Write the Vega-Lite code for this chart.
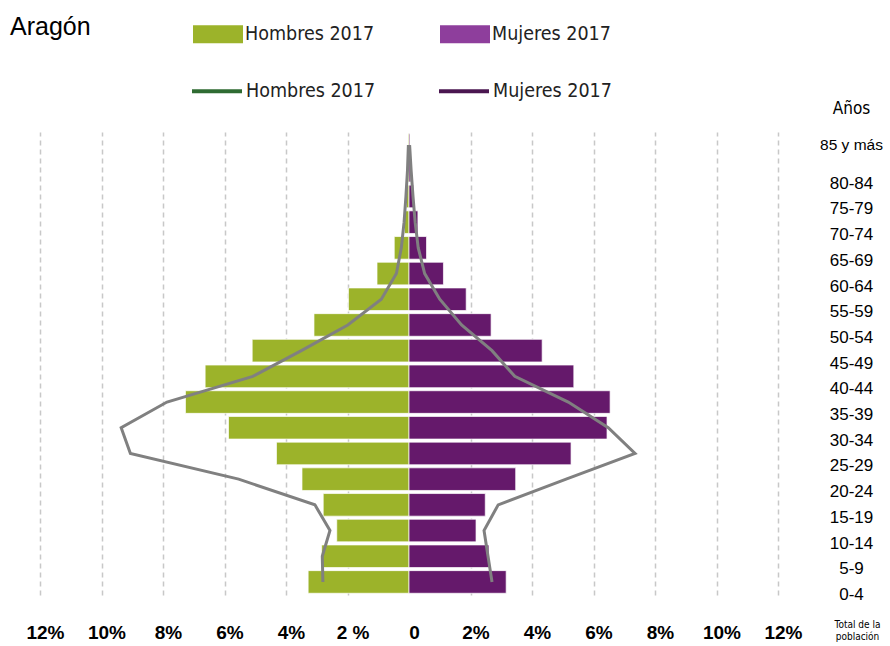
{
  "$schema": "https://vega.github.io/schema/vega-lite/v6.json",
  "width": 738,
  "height": 463,
  "autosize": {"type": "none"},
  "padding": {"left": 40, "top": 132, "right": 112, "bottom": 51},
  "background": "white",
  "title": {"text": "Aragón", "anchor": "start", "frame": "group", "dx": -30, "dy": 35, "fontSize": 25, "font": "Liberation Sans", "fontWeight": "normal", "color": "#000000"},
  "config": {"view": {"stroke": null}},
  "datasets": {
    "barras": [
      {"edad": "85 y más", "sexo": "Hombres 2017", "v": -0.03}, {"edad": "85 y más", "sexo": "Mujeres 2017", "v": 0.03},
      {"edad": "80-84", "sexo": "Hombres 2017", "v": -0.05}, {"edad": "80-84", "sexo": "Mujeres 2017", "v": 0.06},
      {"edad": "75-79", "sexo": "Hombres 2017", "v": -0.09}, {"edad": "75-79", "sexo": "Mujeres 2017", "v": 0.15},
      {"edad": "70-74", "sexo": "Hombres 2017", "v": -0.15}, {"edad": "70-74", "sexo": "Mujeres 2017", "v": 0.29},
      {"edad": "65-69", "sexo": "Hombres 2017", "v": -0.48}, {"edad": "65-69", "sexo": "Mujeres 2017", "v": 0.57},
      {"edad": "60-64", "sexo": "Hombres 2017", "v": -1.04}, {"edad": "60-64", "sexo": "Mujeres 2017", "v": 1.12},
      {"edad": "55-59", "sexo": "Hombres 2017", "v": -1.97}, {"edad": "55-59", "sexo": "Mujeres 2017", "v": 1.86},
      {"edad": "50-54", "sexo": "Hombres 2017", "v": -3.09}, {"edad": "50-54", "sexo": "Mujeres 2017", "v": 2.67},
      {"edad": "45-49", "sexo": "Hombres 2017", "v": -5.10}, {"edad": "45-49", "sexo": "Mujeres 2017", "v": 4.33},
      {"edad": "40-44", "sexo": "Hombres 2017", "v": -6.63}, {"edad": "40-44", "sexo": "Mujeres 2017", "v": 5.36},
      {"edad": "35-39", "sexo": "Hombres 2017", "v": -7.27}, {"edad": "35-39", "sexo": "Mujeres 2017", "v": 6.54},
      {"edad": "30-34", "sexo": "Hombres 2017", "v": -5.87}, {"edad": "30-34", "sexo": "Mujeres 2017", "v": 6.44},
      {"edad": "25-29", "sexo": "Hombres 2017", "v": -4.31}, {"edad": "25-29", "sexo": "Mujeres 2017", "v": 5.27},
      {"edad": "20-24", "sexo": "Hombres 2017", "v": -3.48}, {"edad": "20-24", "sexo": "Mujeres 2017", "v": 3.47},
      {"edad": "15-19", "sexo": "Hombres 2017", "v": -2.79}, {"edad": "15-19", "sexo": "Mujeres 2017", "v": 2.48},
      {"edad": "10-14", "sexo": "Hombres 2017", "v": -2.35}, {"edad": "10-14", "sexo": "Mujeres 2017", "v": 2.18},
      {"edad": "5-9", "sexo": "Hombres 2017", "v": -2.84}, {"edad": "5-9", "sexo": "Mujeres 2017", "v": 2.60},
      {"edad": "0-4", "sexo": "Hombres 2017", "v": -3.28}, {"edad": "0-4", "sexo": "Mujeres 2017", "v": 3.16}
    ],
    "lineas": [
      {"edad": "85 y más", "serie": "Hombres", "v": -0.02},
      {"edad": "80-84", "serie": "Hombres", "v": -0.05},
      {"edad": "75-79", "serie": "Hombres", "v": -0.10},
      {"edad": "70-74", "serie": "Hombres", "v": -0.16},
      {"edad": "65-69", "serie": "Hombres", "v": -0.25},
      {"edad": "60-64", "serie": "Hombres", "v": -0.41},
      {"edad": "55-59", "serie": "Hombres", "v": -0.90},
      {"edad": "50-54", "serie": "Hombres", "v": -1.99},
      {"edad": "45-49", "serie": "Hombres", "v": -3.50},
      {"edad": "40-44", "serie": "Hombres", "v": -5.08},
      {"edad": "35-39", "serie": "Hombres", "v": -7.87},
      {"edad": "30-34", "serie": "Hombres", "v": -9.36},
      {"edad": "25-29", "serie": "Hombres", "v": -9.06},
      {"edad": "20-24", "serie": "Hombres", "v": -5.54},
      {"edad": "15-19", "serie": "Hombres", "v": -3.06},
      {"edad": "10-14", "serie": "Hombres", "v": -2.57},
      {"edad": "5-9", "serie": "Hombres", "v": -2.82},
      {"edad": "0-4", "serie": "Hombres", "v": -2.80},
      {"edad": "85 y más", "serie": "Mujeres", "v": 0.02},
      {"edad": "80-84", "serie": "Mujeres", "v": 0.07},
      {"edad": "75-79", "serie": "Mujeres", "v": 0.13},
      {"edad": "70-74", "serie": "Mujeres", "v": 0.20},
      {"edad": "65-69", "serie": "Mujeres", "v": 0.30},
      {"edad": "60-64", "serie": "Mujeres", "v": 0.51},
      {"edad": "55-59", "serie": "Mujeres", "v": 1.00},
      {"edad": "50-54", "serie": "Mujeres", "v": 1.71},
      {"edad": "45-49", "serie": "Mujeres", "v": 2.70},
      {"edad": "40-44", "serie": "Mujeres", "v": 3.44},
      {"edad": "35-39", "serie": "Mujeres", "v": 5.18},
      {"edad": "30-34", "serie": "Mujeres", "v": 6.48},
      {"edad": "25-29", "serie": "Mujeres", "v": 7.35},
      {"edad": "20-24", "serie": "Mujeres", "v": 5.11},
      {"edad": "15-19", "serie": "Mujeres", "v": 2.90},
      {"edad": "10-14", "serie": "Mujeres", "v": 2.44},
      {"edad": "5-9", "serie": "Mujeres", "v": 2.57},
      {"edad": "0-4", "serie": "Mujeres", "v": 2.70}
    ]
  },
  "layer": [
    {
      "data": {"name": "barras"},
      "mark": {"type": "bar", "stroke": "#ffffff", "strokeWidth": 0.7},
      "encoding": {
        "y": {
          "field": "edad", "type": "nominal",
          "sort": ["85 y más", "80-84", "75-79", "70-74", "65-69", "60-64", "55-59", "50-54", "45-49", "40-44", "35-39", "30-34", "25-29", "20-24", "15-19", "10-14", "5-9", "0-4"],
          "scale": {"paddingInner": 0.12, "paddingOuter": 0.068},
          "axis": {
            "orient": "right", "ticks": false, "domain": false, "grid": false,
            "labelAlign": "center", "labelPadding": 73, "labelFont": "Liberation Sans", "labelColor": "#000000",
            "labelFontSize": {"condition": {"test": "datum.value === '85 y más'", "value": 15.5}, "value": 17},
            "labelOffset": {"condition": {"test": "datum.value === '85 y más'", "value": 0}, "value": 13},
            "title": "Años", "titleAngle": 0, "titleX": 73, "titleY": -24, "titleAlign": "center", "titleBaseline": "middle",
            "titleFont": "Liberation Sans Narrow, DejaVu Sans Condensed, sans-serif", "titleFontSize": 17, "titleFontWeight": "normal", "titleColor": "#000000"
          }
        },
        "x": {
          "field": "v", "type": "quantitative",
          "scale": {"domain": [-12, 12], "nice": false},
          "axis": {
            "values": [-12, -10, -8, -6, -4, -2, 0, 2, 4, 6, 8, 10, 12],
            "labelExpr": "datum.value == 0 ? '0' : (datum.value == -2 ? '2 %' : abs(datum.value) + '%')",
            "labelFont": "Liberation Sans", "labelFontSize": 19, "labelFontWeight": "bold", "labelColor": "#000000",
            "labelPadding": 28, "labelOffset": 5, "labelFlush": false, "labelOverlap": false, "labelBound": false,
            "domain": false, "ticks": false,
            "grid": true, "gridDash": [5, 4], "gridColor": "#c8c8c8", "gridWidth": 1.5,
            "gridOpacity": {"condition": {"test": "datum.value == 0", "value": 0}, "value": 1},
            "title": ["Total de la", "población"], "titleX": 817, "titleY": 24, "titleAlign": "center", "titleBaseline": "top",
            "titleFont": "Liberation Sans Narrow, DejaVu Sans Condensed, sans-serif", "titleFontSize": 10, "titleFontWeight": "normal", "titleColor": "#000000", "titleLineHeight": 12
          }
        },
        "fill": {
          "condition": {"test": "datum.sexo === 'Mujeres 2017'", "value": "#65196b"},
          "field": "sexo", "type": "nominal",
          "scale": {"domain": ["Hombres 2017", "Mujeres 2017"], "range": ["#9cb32a", "#8e3e9c"]},
          "legend": {
            "orient": "none", "legendX": 153, "legendY": -123, "direction": "horizontal", "columns": 2, "columnPadding": 65,
            "title": null, "symbolType": "M-1,-0.36H1V0.36H-1Z", "symbolSize": 2500, "symbolStrokeWidth": 0, "symbolOpacity": 1,
            "labelFont": "Liberation Sans Narrow, DejaVu Sans Condensed, sans-serif", "labelFontSize": 19.5, "labelColor": "#222222", "labelOffset": 2, "labelLimit": 300
          }
        }
      }
    },
    {
      "data": {"name": "lineas"},
      "mark": {"type": "line", "strokeWidth": 3},
      "encoding": {
        "y": {
          "field": "edad", "type": "nominal",
          "sort": ["85 y más", "80-84", "75-79", "70-74", "65-69", "60-64", "55-59", "50-54", "45-49", "40-44", "35-39", "30-34", "25-29", "20-24", "15-19", "10-14", "5-9", "0-4"]
        },
        "x": {"field": "v", "type": "quantitative"},
        "stroke": {
          "condition": {"test": "true", "value": "#808080"},
          "field": "serie", "type": "nominal",
          "scale": {"domain": ["Hombres", "Mujeres"], "range": ["#2f6b32", "#4a1650"]},
          "legend": {
            "orient": "none", "legendX": 150, "legendY": -68, "direction": "horizontal", "columns": 2, "columnPadding": 55,
            "title": null, "symbolType": "stroke", "symbolSize": 2500, "symbolStrokeWidth": 4, "symbolOpacity": 1,
            "labelExpr": "datum.label + ' 2017'",
            "labelFont": "Liberation Sans Narrow, DejaVu Sans Condensed, sans-serif", "labelFontSize": 19.5, "labelColor": "#222222", "labelOffset": 2, "labelLimit": 300
          }
        }
      }
    }
  ]
}
